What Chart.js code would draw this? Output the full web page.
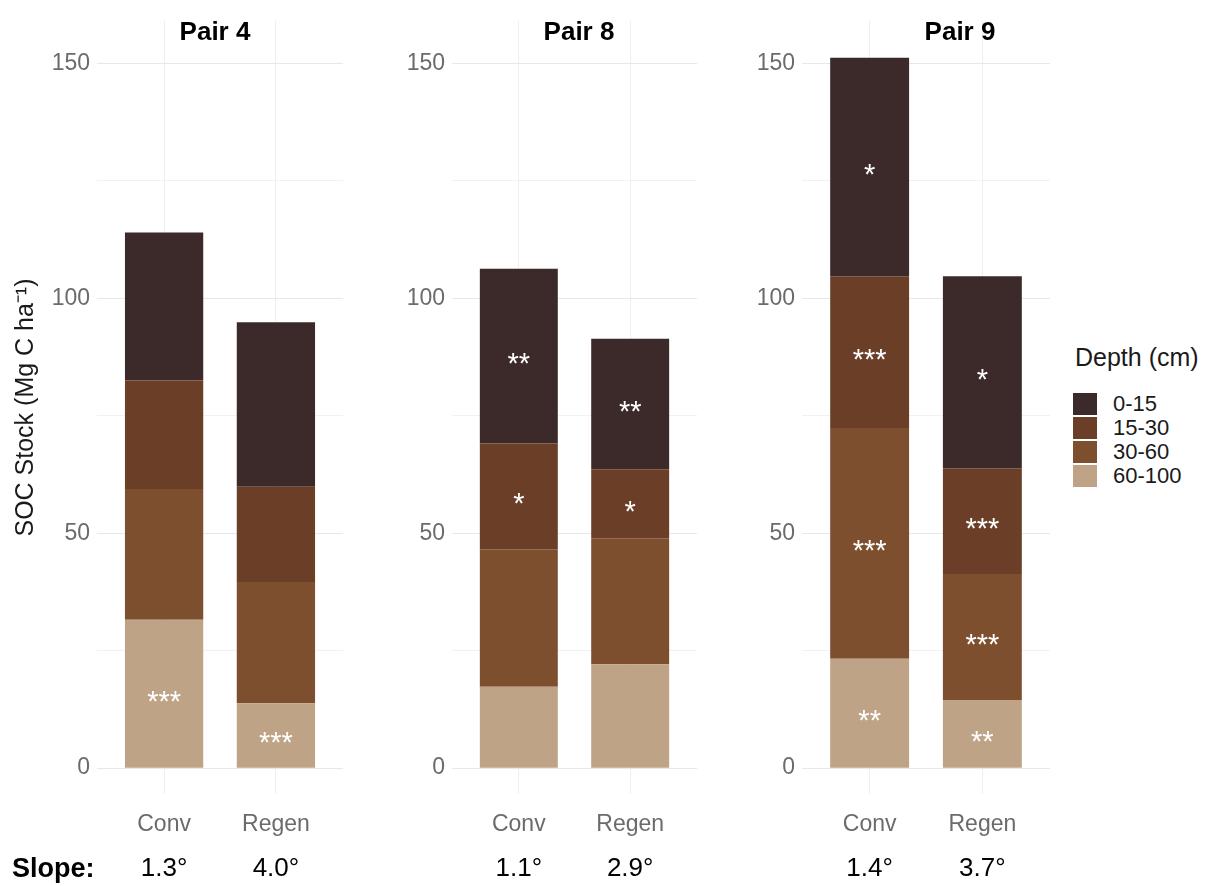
<!DOCTYPE html>
<html>
<head>
<meta charset="utf-8">
<script src="https://cdn.jsdelivr.net/npm/chart.js@4.4.1/dist/chart.umd.min.js"></script>
<style>
  body { margin: 0; background: #fff; font-family: "Liberation Sans", Arial, sans-serif; }
  #wrap { position: relative; width: 1226px; height: 886px; overflow: hidden; }
  canvas { position: absolute; top: 0; }
  .title { position: absolute; top: 18px; font-size: 26px; line-height: 26px; font-weight: bold; color: #000; transform: translateX(-50%); white-space: nowrap; }
  #slope { position: absolute; left: 12px; top: 855px; font-size: 27px; line-height: 27px; font-weight: bold; color: #000; }
  #legend { position: absolute; left: 1073px; top: 343px; color: #1a1a1a; }
  #legend .ltitle { font-size: 25px; line-height: 28px; margin-left: 2px; margin-bottom: 21px; }
  #legend .item { display: flex; align-items: center; height: 24px; }
  #legend .box { width: 24px; height: 22px; margin-right: 16px; }
  #legend .lab { font-size: 22px; line-height: 22px; }
</style>
</head>
<body>
<div id="wrap">
  <canvas id="pair4" width="350" height="886" style="left:0px"></canvas>
  <canvas id="pair8" width="320" height="886" style="left:380px"></canvas>
  <canvas id="pair9" width="314" height="886" style="left:740px"></canvas>
  <div class="title" style="left:215px">Pair 4</div>
  <div class="title" style="left:579px">Pair 8</div>
  <div class="title" style="left:960px">Pair 9</div>
  <div id="slope">Slope:</div>
  <div id="legend"></div>
</div>
<script>
const categories = ['Conv', 'Regen'];
const depths = ['0-15', '15-30', '30-60', '60-100'];
const depthColors = ['#3b2a29', '#6b3f27', '#7d4f2e', '#bfa386'];

// SOC stock (Mg C/ha) by depth layer, ordered as in depths
const pair4Conv = [31.5, 23.1, 27.8, 31.6];
const pair4Regen = [35.0, 20.3, 25.8, 13.8];
const pair8Conv = [37.2, 22.5, 29.3, 17.3];
const pair8Regen = [27.8, 14.7, 26.8, 22.1];
const pair9Conv = [46.5, 32.3, 49.1, 23.3];
const pair9Regen = [40.9, 22.5, 26.8, 14.5];

// significance marks per depth layer
const pair4ConvSig = ['', '', '', '***'];
const pair4RegenSig = ['', '', '', '***'];
const pair8ConvSig = ['**', '*', '', ''];
const pair8RegenSig = ['**', '*', '', ''];
const pair9ConvSig = ['*', '***', '***', '**'];
const pair9RegenSig = ['*', '***', '***', '**'];

const pair4Slopes = ['1.3°', '4.0°'];
const pair8Slopes = ['1.1°', '2.9°'];
const pair9Slopes = ['1.4°', '3.7°'];

const yTicks = [0, 50, 100, 150];

// draws the stars in the middle of each stacked segment
const starLabels = {
    id: 'starLabels',
    afterDatasetsDraw(chart) {
        const marks = chart.options.plugins.starLabels.marks;
        const ctx = chart.ctx;
        ctx.save();
        ctx.fillStyle = '#ffffff';
        ctx.font = '29px "Liberation Sans", Arial, sans-serif';
        ctx.textAlign = 'center';
        ctx.textBaseline = 'alphabetic';
        chart.data.datasets.forEach((ds, i) => {
            const meta = chart.getDatasetMeta(i);
            meta.data.forEach((bar, j) => {
                const txt = marks[j][ds.depthIndex];
                if (!txt) return;
                const p = bar.getProps(['x', 'y', 'base'], true);
                const cy = (p.y + p.base) / 2;
                ctx.fillText(txt, p.x, cy + 17);
            });
        });
        ctx.restore();
    }
};

function fixedTicks(scale) {
    scale.ticks = categories.map((c, i) => ({ value: i }));
}

function makePanel(id, conv, regen, convSig, regenSig, slopes, yWidth, padRight, withTitle) {
    // bottom layer first so the stack builds upward
    const datasets = [];
    for (let d = depths.length - 1; d >= 0; d--) {
        datasets.push({
            label: depths[d],
            depthIndex: d,
            data: [{ x: 0, y: conv[d] }, { x: 1, y: regen[d] }],
            backgroundColor: depthColors[d],
            borderWidth: 0,
            barPercentage: 0.7,
            categoryPercentage: 1.0
        });
    }

    return new Chart(document.getElementById(id), {
        type: 'bar',
        data: { datasets: datasets },
        options: {
            responsive: false,
            animation: false,
            layout: { padding: { top: 21, right: padRight, left: 0, bottom: 0 } },
            plugins: {
                legend: { display: false },
                tooltip: { enabled: false },
                starLabels: { marks: [convSig, regenSig] }
            },
            scales: {
                x: {
                    type: 'linear',
                    position: 'bottom',
                    stacked: true,
                    offset: false,
                    min: -0.6,
                    max: 1.6,
                    weight: 1,
                    afterBuildTicks: fixedTicks,
                    afterFit: (s) => { s.height = 44; },
                    ticks: {
                        callback: (v) => categories[v],
                        color: '#6b6b6b',
                        font: { size: 23, family: '"Liberation Sans", Arial, sans-serif' },
                        padding: 17,
                        maxRotation: 0
                    },
                    grid: { color: '#efefef', lineWidth: 1, drawTicks: false, offset: false },
                    border: { display: false }
                },
                slope: {
                    type: 'linear',
                    position: 'bottom',
                    offset: false,
                    min: -0.6,
                    max: 1.6,
                    weight: 2,
                    afterBuildTicks: fixedTicks,
                    afterFit: (s) => { s.height = 48; },
                    ticks: {
                        callback: (v) => slopes[v],
                        color: '#000000',
                        font: { size: 26, family: '"Liberation Sans", Arial, sans-serif' },
                        padding: 15,
                        maxRotation: 0
                    },
                    grid: { display: false, drawTicks: false },
                    border: { display: false }
                },
                y: {
                    stacked: true,
                    min: -5.5,
                    max: 159,
                    afterBuildTicks: (s) => {
                        s.ticks = [0, 25, 50, 75, 100, 125, 150].map(v => ({ value: v }));
                    },
                    afterFit: (s) => { s.width = yWidth; },
                    ticks: {
                        callback: (v) => yTicks.includes(v) ? v : '',
                        color: '#6b6b6b',
                        font: { size: 23, family: '"Liberation Sans", Arial, sans-serif' },
                        padding: 7
                    },
                    grid: {
                        color: (c) => yTicks.includes(c.tick.value) ? '#e8e8e8' : '#f1f1f1',
                        lineWidth: 1,
                        drawTicks: false
                    },
                    border: { display: false },
                    title: {
                        display: withTitle,
                        text: 'SOC Stock (Mg C ha\u207B\u00B9)',
                        color: '#1a1a1a',
                        font: { size: 25, family: '"Liberation Sans", Arial, sans-serif' },
                        padding: { top: 11, bottom: 0 }
                    }
                }
            }
        },
        plugins: [starLabels]
    });
}

makePanel('pair4', pair4Conv, pair4Regen, pair4ConvSig, pair4RegenSig, pair4Slopes, 97, 7, true);
makePanel('pair8', pair8Conv, pair8Regen, pair8ConvSig, pair8RegenSig, pair8Slopes, 72, 3, false);
makePanel('pair9', pair9Conv, pair9Regen, pair9ConvSig, pair9RegenSig, pair9Slopes, 62, 4, false);

// legend
const legend = document.getElementById('legend');
let html = '<div class="ltitle">Depth (cm)</div>';
depths.forEach((d, i) => {
    html += '<div class="item"><div class="box" style="background:' + depthColors[i] + '"></div><span class="lab">' + d + '</span></div>';
});
legend.innerHTML = html;
</script>
</body>
</html>
